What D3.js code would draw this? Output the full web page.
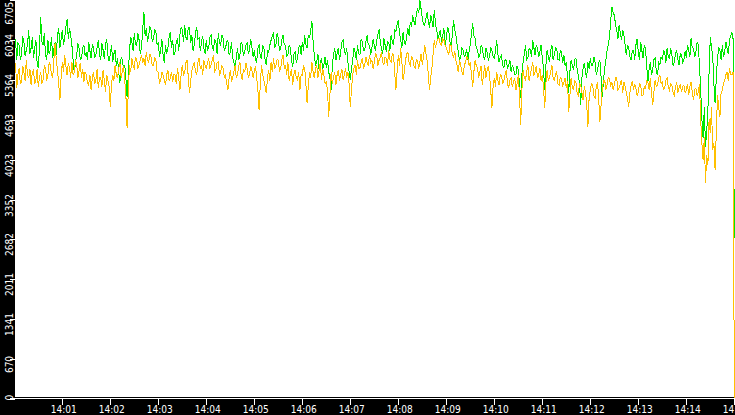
<!DOCTYPE html>
<html>
<head>
<meta charset="utf-8">
<script src="https://cdn.jsdelivr.net/npm/d3@7"></script>
<style>
html, body { margin: 0; padding: 0; background: #000; overflow: hidden; }
svg { display: block; }
.axis text { fill: #fff; font-family: "DejaVu Sans Condensed", "DejaVu Sans", sans-serif; font-stretch: condensed; font-size: 11px; }
.axis line, .axis path { stroke: #fff; shape-rendering: crispEdges; }
</style>
</head>
<body>
<svg id="chart" width="735" height="415"></svg>
<script>
// time span and sampling
const startTime = new Date(2020, 0, 1, 14, 0, 0);
const endTime = new Date(2020, 0, 1, 14, 15, 0);
const stepSeconds = 1.5;

// y axis top value, ticks are tenths of it (truncated)
const yMax = 6705;
const yTickCount = 10;

// green series, one value every 1.5 s from 14:00:00 (30 s per row)
const greenValues = [
  5830, 6050, 5695, 5980, 5947, 5700, 5779, 6100, 5998, 5760, 5863, 5950, 6199, 5800, 5897, 6080, 5729, 5900, 6031, 5650,
  5561, 5900, 6418, 6000, 5947, 6150, 5779, 5700, 6031, 5800, 5863, 6080, 5729, 5880, 5998, 5780, 6115, 6230, 5897, 6050,
  6199, 5950, 6065, 6250, 6384, 6050, 6233, 6120, 5947, 5700, 5477, 5650, 5779, 5980, 5897, 5700, 5729, 5900, 5947, 5760,
  5830, 5700, 5998, 5850, 5729, 5960, 5914, 5730, 5779, 5900, 6031, 5800, 5695, 5980, 5863, 5720, 5947, 6050, 5779, 5680,
  5779, 5950, 5662, 5800, 5863, 5600, 5729, 5500, 5309, 5750, 5695, 5560, 5611, 5400, 5074, 5450, 5863, 6080, 5998, 5850,
  6149, 5950, 5947, 6150, 6031, 5800, 5897, 6200, 6502, 6100, 6233, 6000, 6115, 6250, 6199, 6000, 6065, 6200, 6166, 5950,
  5998, 5750, 5863, 6050, 5779, 5650, 5947, 5800, 5897, 6080, 6166, 5900, 6031, 5780, 5830, 6000, 6065, 5850, 6115, 6250,
  6199, 6000, 6283, 6080, 6031, 6250, 6233, 5980, 6115, 5850, 5947, 6150, 6250, 6050, 6065, 5850, 5998, 6100, 5897, 5800,
  6031, 5850, 5914, 6080, 6115, 5900, 5863, 6050, 5998, 5800, 6149, 5980, 5947, 6120, 6065, 5850, 5897, 6000, 6031, 5780,
  5830, 6000, 5729, 5650, 5527, 5750, 5897, 5700, 5779, 6000, 5947, 5760, 5830, 5950, 5981, 5800, 5863, 6050, 5914, 5750,
  5863, 5700, 5662, 5900, 5947, 5750, 5729, 5950, 5897, 5700, 5611, 5850, 5830, 5950, 6031, 6100, 6166, 5900, 5947, 6150,
  6065, 5850, 5897, 6050, 6115, 5950, 5947, 5760, 5779, 5950, 5897, 5700, 5578, 5800, 5830, 5650, 5729, 5900, 5947, 5780,
  5998, 5850, 6115, 5950, 5897, 6120, 6065, 6200, 6350, 6000, 5779, 5600, 5662, 5800, 5527, 5650, 5729, 5550, 5611, 5750,
  5561, 5700, 5494, 5400, 5191, 5600, 5779, 5900, 5695, 5800, 5897, 5700, 5830, 6000, 6031, 5850, 5779, 5900, 5662, 5500,
  5359, 5550, 5695, 5900, 5830, 5700, 5947, 5800, 5779, 6050, 5998, 5850, 5863, 6000, 6115, 5950, 5947, 5780, 5897, 6050,
  5947, 5850, 6031, 6120, 6216, 6000, 5897, 5800, 6065, 5950, 5830, 6000, 5998, 5850, 6115, 6000, 5947, 6200, 6166, 6300,
  6367, 6150, 6031, 5900, 6166, 6000, 5947, 6100, 6233, 6100, 6334, 6250, 6451, 6350, 6283, 6450, 6569, 6480, 6705, 6550,
  6401, 6300, 6283, 6400, 6502, 6350, 6233, 6450, 6367, 6250, 6535, 6300, 6199, 6050, 6115, 6200, 5998, 6100, 6233, 5950,
  6065, 6250, 6199, 6000, 5947, 6100, 6367, 6200, 6115, 5950, 5830, 5700, 5729, 5900, 5863, 5750, 5779, 5880, 5695, 5850,
  5947, 6150, 6317, 6100, 6065, 5900, 5863, 5750, 5779, 5950, 5897, 5750, 5695, 5900, 5830, 5700, 5746, 5900, 5863, 5750,
  5729, 5850, 6031, 5800, 5662, 5750, 5779, 5600, 5561, 5700, 5695, 5550, 5611, 5700, 5494, 5600, 5561, 5450, 5443, 5600,
  5527, 5300, 5057, 5450, 5662, 5800, 5947, 5700, 5729, 5900, 5863, 5750, 6031, 5900, 5779, 5950, 5897, 5750, 5830, 5950,
  5729, 5550, 5191, 5600, 5863, 5750, 5662, 5850, 5947, 5700, 5779, 5900, 5897, 5700, 5695, 5850, 5830, 5650, 5779, 5600,
  5662, 5400, 5141, 5500, 5695, 5600, 5527, 5700, 5729, 5550, 5443, 5300, 4939, 5400, 5561, 5650, 5494, 5400, 5662, 5550,
  5729, 5600, 5611, 5750, 5662, 5450, 5527, 5650, 5695, 5400, 5074, 5350, 5561, 5700, 5863, 5950, 6082, 6350, 6586, 6500,
  6451, 6300, 6199, 6050, 6283, 6150, 6031, 6200, 6115, 5950, 5779, 5950, 5897, 5750, 5695, 5850, 5863, 5700, 5947, 6050,
  5830, 5700, 5998, 5850, 5729, 5950, 5897, 5600, 5326, 5550, 5662, 5450, 5527, 5700, 5729, 5500, 5443, 5650, 5611, 5750,
  5695, 5850, 5830, 5650, 5897, 5750, 5729, 5900, 5779, 5600, 5662, 5800, 5863, 5700, 5611, 5800, 5779, 5650, 5695, 5850,
  5729, 5950, 5863, 5750, 6065, 5900, 5897, 5750, 5830, 6000, 5947, 5600, 5191, 4700, 4385, 4900, 4234, 4500, 4855, 5500,
  6082, 5900, 5779, 5300, 4973, 5400, 5729, 5900, 5863, 5700, 5947, 5750, 5830, 6000, 5897, 5800, 6031, 6100, 6166, 6050,
  2705
];

// yellow series, same timestamps
const yellowValues = [
  5443, 5650, 5225, 5450, 5561, 5300, 5326, 5600, 5494, 5350, 5695, 5450, 5393, 5550, 5275, 5500, 5527, 5300, 5359, 5550,
  5242, 5400, 5494, 5300, 5359, 5600, 5561, 5350, 5443, 5650, 5611, 5450, 5393, 5700, 5981, 5700, 5527, 5300, 5023, 5400,
  5662, 5500, 5779, 5600, 5443, 5650, 5561, 5400, 5662, 5450, 5494, 5700, 5611, 5400, 5527, 5650, 5393, 5550, 5326, 5500,
  5443, 5300, 5275, 5450, 5191, 5400, 5494, 5300, 5359, 5550, 5225, 5400, 5393, 5250, 5527, 5350, 5158, 5450, 5359, 5250,
  4906, 5300, 5443, 5350, 5611, 5450, 5393, 5550, 5662, 5400, 5494, 5600, 5359, 5100, 4553, 5200, 5611, 5500, 5729, 5600,
  5561, 5750, 5695, 5550, 5611, 5700, 5779, 5650, 5729, 5600, 5830, 5700, 5662, 5800, 5746, 5600, 5611, 5750, 5695, 5500,
  5494, 5300, 5359, 5500, 5443, 5350, 5275, 5450, 5527, 5350, 5393, 5500, 5326, 5450, 5443, 5300, 5561, 5400, 5191, 5450,
  5611, 5450, 5494, 5650, 5695, 5400, 5141, 5350, 5527, 5600, 5662, 5500, 5443, 5650, 5729, 5550, 5611, 5450, 5695, 5600,
  5561, 5650, 5729, 5550, 5611, 5700, 5779, 5500, 5527, 5650, 5662, 5450, 5494, 5600, 5561, 5400, 5443, 5300, 5191, 5400,
  5527, 5350, 5393, 5500, 5611, 5400, 5443, 5600, 5662, 5450, 5359, 5550, 5494, 5650, 5561, 5400, 5443, 5600, 5527, 5400,
  5494, 5600, 5393, 5200, 4855, 5300, 5611, 5450, 5359, 5250, 5141, 5400, 5527, 5350, 5662, 5500, 5729, 5550, 5611, 5700,
  5695, 5500, 5561, 5700, 5779, 5550, 5611, 5450, 5662, 5350, 5443, 5550, 5275, 5450, 5527, 5400, 5359, 5500, 5191, 5450,
  5443, 5600, 5561, 5300, 4973, 5250, 5494, 5400, 5662, 5500, 5393, 5550, 5611, 5400, 5527, 5650, 5359, 5550, 5443, 5300,
  5326, 5200, 4738, 5100, 5494, 5300, 5393, 5500, 5275, 5450, 5527, 5350, 5443, 5550, 5359, 5450, 5561, 5400, 5494, 5300,
  4906, 5200, 5443, 5550, 5611, 5450, 5695, 5550, 5561, 5650, 5729, 5550, 5611, 5750, 5662, 5600, 5779, 5650, 5695, 5550,
  5662, 5800, 5779, 5600, 5695, 5750, 5830, 5650, 5611, 5750, 5729, 5600, 5863, 5700, 5662, 5800, 5779, 5500, 5191, 5500,
  5779, 5600, 5897, 5650, 5359, 5500, 5695, 5800, 5830, 5650, 5611, 5750, 5729, 5600, 5561, 5700, 5695, 5550, 5662, 5800,
  5611, 5750, 5947, 5800, 5695, 5450, 5191, 5400, 5561, 5800, 6031, 5900, 5998, 6050, 6065, 5950, 5947, 6050, 6031, 5950,
  5897, 5850, 5779, 5950, 5947, 5800, 5729, 5850, 5695, 5600, 5494, 5700, 5611, 5500, 5443, 5600, 5662, 5750, 5729, 5600,
  5662, 5450, 5242, 5500, 5695, 5600, 5561, 5400, 5494, 5600, 5275, 5450, 5611, 5400, 5527, 5600, 5443, 5200, 4889, 5250,
  5393, 5250, 5494, 5350, 5275, 5450, 5443, 5300, 5359, 5450, 5527, 5300, 5225, 5350, 5393, 5250, 5326, 5400, 5191, 5300,
  5443, 5100, 4603, 5200, 5527, 5400, 5359, 5500, 5611, 5350, 5443, 5550, 5662, 5450, 5494, 5600, 5393, 5450, 5561, 5350,
  5443, 5250, 4889, 5300, 5527, 5350, 5393, 5500, 5611, 5400, 5359, 5450, 5494, 5300, 5275, 5400, 5393, 5250, 5326, 5400,
  5225, 5350, 4822, 5100, 5393, 5250, 5191, 5350, 5326, 5150, 5107, 5300, 5275, 5150, 5023, 5250, 5158, 4950, 4570, 5050,
  5191, 5300, 5275, 5100, 5057, 5250, 5326, 5050, 4654, 4950, 5225, 5350, 5359, 5200, 5275, 5400, 5393, 5250, 5326, 5200,
  5275, 5400, 5393, 5200, 5225, 5300, 5359, 5150, 5326, 5250, 5158, 5050, 4906, 5150, 5275, 5350, 5191, 5300, 5225, 5100,
  5158, 5300, 5275, 5100, 5107, 5250, 5225, 5350, 5326, 5200, 5393, 5150, 4939, 5150, 5359, 5250, 5275, 5400, 5443, 5300,
  5326, 5200, 5225, 5350, 5393, 5250, 5191, 5300, 5275, 5150, 5107, 5250, 5326, 5150, 5225, 5300, 5158, 5250, 5275, 5150,
  5191, 5300, 5107, 5250, 5326, 5150, 5023, 5200, 5225, 5100, 5158, 5300, 4687, 4300, 4015, 4400, 3629, 4100, 3931, 4700,
  4469, 4900, 4183, 4300, 3847, 4500, 5107, 4900, 4738, 5150, 5191, 5300, 5359, 5450, 5494, 5350, 5561, 5450, 5443, 5500,
  0
];

const svg = d3.select("#chart");
const W = 735, H = 415;
const plotLeft = 15, plotBottom = 397;

const x = d3.scaleTime().domain([startTime, endTime]).range([14.3, 734.3]);
const y = d3.scaleLinear().domain([0, yMax]).range([399, 0]);

const timeAt = i => new Date(startTime.getTime() + i * stepSeconds * 1000);

// backgrounds
svg.append("rect").attr("width", W).attr("height", H).attr("fill", "#000");
svg.append("rect")
  .attr("x", plotLeft).attr("y", 0)
  .attr("width", W - plotLeft).attr("height", plotBottom)
  .attr("fill", "#fff");

svg.append("clipPath").attr("id", "plotClip")
  .append("rect").attr("x", plotLeft).attr("y", 0)
  .attr("width", W - plotLeft).attr("height", 398);

const line = d3.line()
  .x((d, i) => x(timeAt(i)))
  .y(d => y(d));

const lines = svg.append("g").attr("clip-path", "url(#plotClip)");
lines.append("path")
  .attr("d", line(greenValues))
  .attr("fill", "none").attr("stroke", "#00e800").attr("stroke-width", 1)
  .attr("shape-rendering", "crispEdges");
lines.append("path")
  .attr("d", line(yellowValues))
  .attr("fill", "none").attr("stroke", "#ffc000").attr("stroke-width", 1)
  .attr("shape-rendering", "crispEdges");

// x axis
const xTicks = d3.timeMinute.range(new Date(2020, 0, 1, 14, 1), new Date(2020, 0, 1, 14, 15, 1));
const xAxis = svg.append("g")
  .attr("class", "axis")
  .attr("transform", "translate(0,398.5)")
  .call(d3.axisBottom(x).tickValues(xTicks).tickFormat(d3.timeFormat("%H:%M"))
    .tickSize(6).tickSizeOuter(0));
xAxis.select(".domain").attr("d", "M10,0H735");
xAxis.selectAll("text").attr("y", 14.5).attr("dy", 0).attr("dx", 1);

// condense labels to match reference glyph widths
let squeeze = 0.8;
const firstLabel = xAxis.select("text").node();
if (firstLabel) {
  const natural = firstLabel.getComputedTextLength();
  if (natural > 0) squeeze = 26 / natural;
}
xAxis.selectAll("text").each(function() {
  const len = this.getComputedTextLength();
  d3.select(this).attr("textLength", len * squeeze).attr("lengthAdjust", "spacingAndGlyphs");
});

// y axis
const yTicks = d3.range(0, yTickCount + 1).map(i => Math.floor(yMax * i / yTickCount));
const yAxis = svg.append("g")
  .attr("class", "axis")
  .attr("transform", "translate(" + plotLeft + ",0)")
  .call(d3.axisLeft(y).tickValues(yTicks).tickFormat(d3.format("d")).tickSize(5).tickSizeOuter(0));
yAxis.select(".domain").remove();
yAxis.selectAll(".tick").each(function(d) {
  const g = d3.select(this);
  const ty = Math.round(y(d)) + 0.5;
  g.attr("transform", "translate(0," + ty + ")");
  const t = g.select("text");
  const natural = t.node().getComputedTextLength();
  const len = natural * squeeze;
  t.attr("textLength", len).attr("lengthAdjust", "spacingAndGlyphs");
  let c = ty + 5;
  c = Math.max(c, 1.7 + len / 2);
  c = Math.min(c, 400.5 - len / 2);
  t.attr("x", 0).attr("y", 0).attr("dy", 0)
    .attr("text-anchor", "middle")
    .attr("transform", "translate(-2.5," + (c - ty) + ") rotate(-90)");
});
</script>
</body>
</html>
